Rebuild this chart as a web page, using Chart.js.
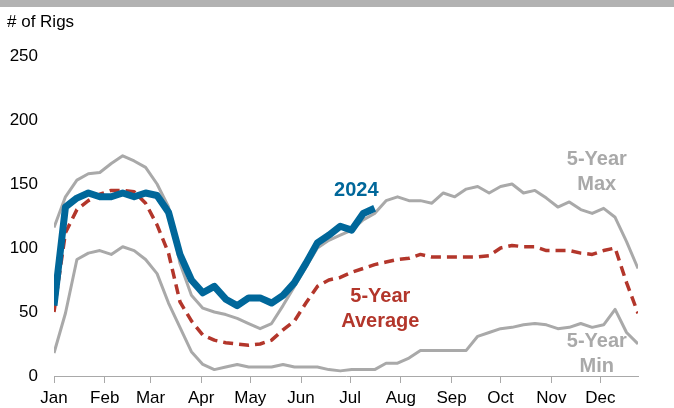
<!DOCTYPE html>
<html>
<head>
<meta charset="utf-8">
<script src="https://cdn.jsdelivr.net/npm/chart.js@4.4.1/dist/chart.umd.min.js"></script>
<style>
  body { margin: 0; background: #fff; }
  #wrap { position: relative; width: 674px; height: 408px; overflow: hidden; }
  #band { position: absolute; left: 0; top: 0; width: 674px; height: 7px; background: #b2b2b2; }
  #unit { position: absolute; left: 7px; top: 12px; font: 17px "Liberation Sans", Arial, sans-serif; color: #000; }
  #chart { position: absolute; left: 0; top: 0; }
</style>
</head>
<body>
<div id="wrap">
  <canvas id="chart" width="674" height="408"></canvas>
  <div id="band"></div>
  <div id="unit"># of Rigs</div>
</div>
<script>
// semanas del año (0 = primera semana de enero)
const semanas = [0,1,2,3,4,5,6,7,8,9,10,11,12,13,14,15,16,17,18,19,20,21,22,23,24,25,
                 26,27,28,29,30,31,32,33,34,35,36,37,38,39,40,41,42,43,44,45,46,47,48,49,50,51];

// etiquetas del eje x y día del año en que empieza cada mes
const meses = ['Jan','Feb','Mar','Apr','May','Jun','Jul','Aug','Sep','Oct','Nov','Dec'];
const inicioMes = [0,31,59,90,120,151,181,212,243,273,304,334];

// ticks del eje y
const ticksY = [0,50,100,150,200,250];

// series
const rigs2024 = [55,132,139,143,140,140,143,140,143,141,128,95,75,65,70,60,55,61,61,57,
                  63,73,88,104,110,117,114,127,131];

const max5 = [116,140,153,158,159,166,172,168,163,150,132,88,63,53,50,48,45,41,37,41,
              55,70,85,100,106,110,114,122,127,137,140,137,137,135,143,140,146,148,143,148,
              150,143,145,139,132,136,130,127,131,124,105,84];

const media5 = [50,112,130,137,142,145,145,144,135,118,96,58,43,32,28,26,25,24,25,28,
                36,43,57,70,75,77,81,84,87,89,91,92,95,93,93,93,93,93,94,100,
                102,101,101,98,98,98,96,95,98,100,73,49];

const min5 = [18,49,91,96,98,95,101,98,91,80,57,38,19,9,5,7,9,7,7,7,
              9,7,7,7,5,4,5,5,5,10,10,14,20,20,20,20,20,31,34,37,
              38,40,41,40,37,38,41,38,40,52,34,25];

const AZUL = '#00679a';
const ROJO = '#b3362b';
const GRIS = '#a9a9a9';

// etiquetas de las series dentro del gráfico (semana, valor)
const etiquetas = [
  { lineas: ['2024'], semana: 26.4, valor: 145, color: AZUL },
  { lineas: ['5-Year', 'Max'], semana: 47.4, valor: 169, color: GRIS },
  { lineas: ['5-Year', 'Average'], semana: 28.5, valor: 62, color: ROJO },
  { lineas: ['5-Year', 'Min'], semana: 47.4, valor: 27, color: GRIS }
];

const pluginEtiquetas = {
  id: 'etiquetas',
  afterDatasetsDraw(chart) {
    const { ctx, scales } = chart;
    ctx.save();
    ctx.font = 'bold 20px "Liberation Sans", Arial, sans-serif';
    ctx.textAlign = 'center';
    ctx.textBaseline = 'middle';
    etiquetas.forEach(e => {
      ctx.fillStyle = e.color;
      const px = scales.x.getPixelForValue(e.semana);
      const py = scales.y.getPixelForValue(e.valor);
      e.lineas.forEach((t, k) => ctx.fillText(t, px, py + k * 25));
    });
    ctx.restore();
  }
};

const fuente = { family: '"Liberation Sans", Arial, sans-serif', size: 17 };

new Chart(document.getElementById('chart').getContext('2d'), {
  type: 'line',
  data: {
    labels: semanas,
    datasets: [
      { label: '2024', data: rigs2024, borderColor: AZUL, borderWidth: 7, order: 0 },
      { label: '5-Year Average', data: media5, borderColor: ROJO, borderWidth: 3.5,
        borderDash: [10, 6], order: 1 },
      { label: '5-Year Max', data: max5, borderColor: GRIS, borderWidth: 3, order: 2 },
      { label: '5-Year Min', data: min5, borderColor: GRIS, borderWidth: 3, order: 3 }
    ]
  },
  options: {
    responsive: false,
    animation: false,
    layout: { padding: { top: 56, right: 36, bottom: 0, left: 0 } },
    elements: {
      point: { radius: 0 },
      line: { tension: 0, borderJoinStyle: 'round', fill: false }
    },
    plugins: {
      legend: { display: false },
      tooltip: { enabled: false }
    },
    scales: {
      x: {
        type: 'linear',
        min: 0,
        max: 51,
        afterFit: s => { s.height = 32; },
        afterBuildTicks: s => { s.ticks = inicioMes.map(d => ({ value: d / 7 })); },
        ticks: {
          autoSkip: false,
          maxRotation: 0,
          padding: 5,
          color: '#000',
          font: fuente,
          callback: (v, i) => meses[i]
        },
        grid: { drawOnChartArea: false, drawTicks: true, tickLength: 7, color: GRIS, lineWidth: 1 },
        border: { display: true, color: GRIS, width: 1 }
      },
      y: {
        min: 0,
        max: 250,
        afterFit: s => { s.width = 54; },
        afterBuildTicks: s => { s.ticks = ticksY.map(v => ({ value: v })); },
        ticks: { padding: 16, color: '#000', font: fuente },
        grid: { display: false, drawTicks: false },
        border: { display: false }
      }
    }
  },
  plugins: [pluginEtiquetas]
});
</script>
</body>
</html>
